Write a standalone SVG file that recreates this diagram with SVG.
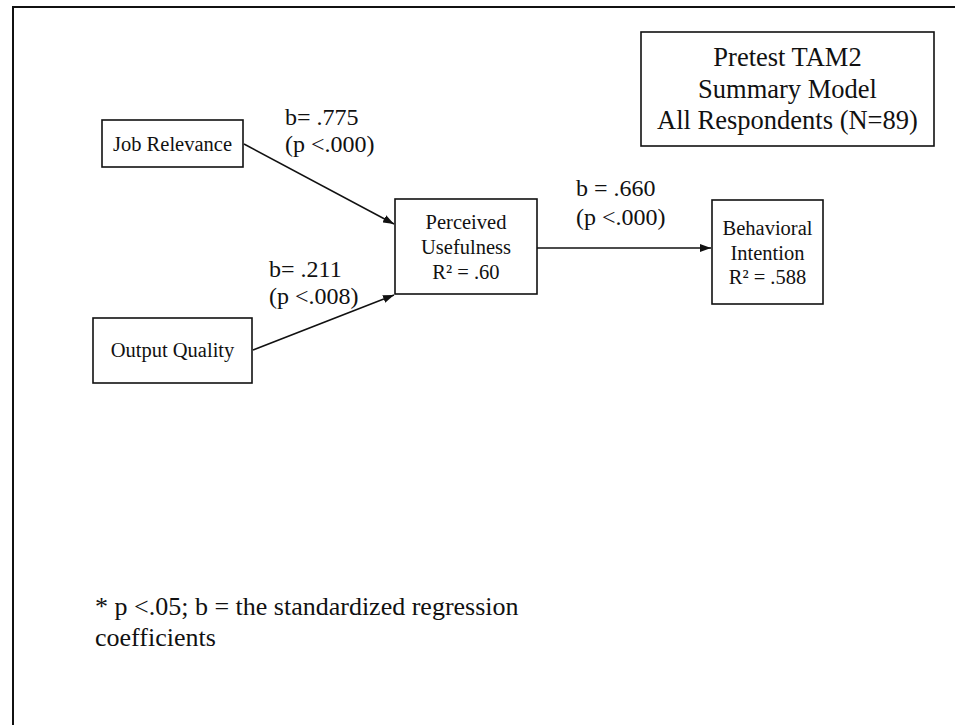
<svg xmlns="http://www.w3.org/2000/svg" width="955" height="725" viewBox="0 0 955 725">
<defs>
<marker id="ah" viewBox="0 0 11 8" refX="11" refY="4" markerWidth="11" markerHeight="8" markerUnits="userSpaceOnUse" orient="auto">
<path d="M0,0 L11,4 L0,8 Z" fill="#111"/>
</marker>
<style>
text{font-family:"Liberation Serif","Times New Roman",serif;fill:#111}
.box{fill:#fff;stroke:#111;stroke-width:1.6}
.node{font-size:20.5px;text-anchor:middle}
.title{font-size:26.5px;text-anchor:middle}
.lab{font-size:24px}
.note{font-size:26px}
.edge{stroke:#111;stroke-width:1.5;fill:none;marker-end:url(#ah)}
.frame{stroke:#111;stroke-width:2;fill:none}
</style>
</defs>
<rect width="955" height="725" fill="#fff"/>
<path class="frame" d="M955,7 L13,7 L13,725"/>
<g id="title">
<rect class="box" x="641" y="32" width="293" height="114"/>
<text class="title" x="787.5" y="66">Pretest TAM2</text>
<text class="title" x="787.5" y="98">Summary Model</text>
<text class="title" x="787.5" y="129">All Respondents (N=89)</text>
</g>
<g id="connectors">
<line class="edge" x1="244" y1="144" x2="394" y2="224"/>
<line class="edge" x1="253" y1="350" x2="394" y2="295"/>
<line class="edge" x1="537" y1="248" x2="711" y2="248"/>
<text class="lab" x="285" y="125">b= .775</text>
<text class="lab" x="285" y="152">(p &lt;.000)</text>
<text class="lab" x="269" y="277">b= .211</text>
<text class="lab" x="269" y="304">(p &lt;.008)</text>
<text class="lab" x="576" y="196">b = .660</text>
<text class="lab" x="576" y="225">(p &lt;.000)</text>
</g>
<g id="job-relevance">
<rect class="box" x="102" y="120" width="141" height="47"/>
<text class="node" x="172.5" y="151">Job Relevance</text>
</g>
<g id="output-quality">
<rect class="box" x="93" y="318" width="159" height="65"/>
<text class="node" x="172.5" y="357">Output Quality</text>
</g>
<g id="perceived-usefulness">
<rect class="box" x="395" y="199" width="142" height="95"/>
<text class="node" x="466" y="229">Perceived</text>
<text class="node" x="466" y="254">Usefulness</text>
<text class="node" x="466" y="279">R² = .60</text>
</g>
<g id="behavioral-intention">
<rect class="box" x="712" y="200" width="111" height="104"/>
<text class="node" x="767.5" y="235">Behavioral</text>
<text class="node" x="767.5" y="260">Intention</text>
<text class="node" x="767.5" y="284">R² = .588</text>
</g>
<g id="footnote">
<text class="note" x="95" y="615">* p &lt;.05; b = the standardized regression</text>
<text class="note" x="95" y="646">coefficients</text>
</g>
</svg>
